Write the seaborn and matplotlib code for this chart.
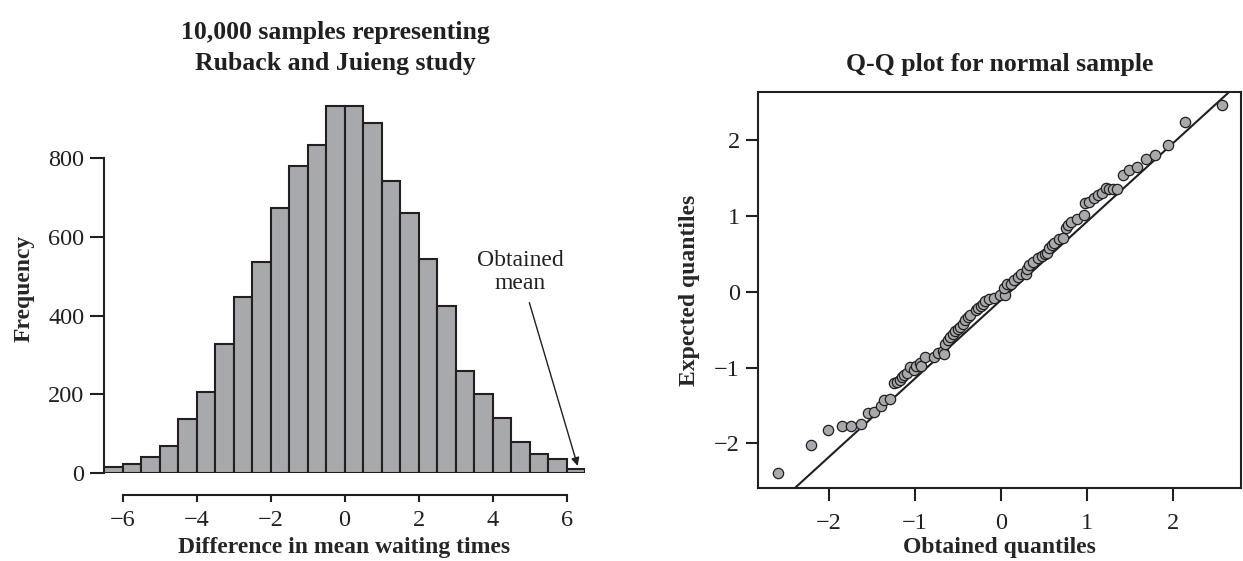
import numpy as np
import pandas as pd
import matplotlib
matplotlib.use("Agg")
import matplotlib.pyplot as plt
import seaborn as sns

# Histogram data (bin width 0.5, from -6.5 to 6.5)
bin_edges = np.arange(-6.5, 6.51, 0.5)
bin_counts = [14, 22, 41, 69, 136, 206, 327, 447, 537, 675, 781, 833, 932,
              932, 889, 742, 660, 543, 425, 260, 202, 141, 79, 49, 35, 11]

# Q-Q plot data
obtained_q = [-2.593, -2.203, -2.004, -1.846, -1.734, -1.618, -1.539, -1.477, -1.394, -1.361,
              -1.290, -1.245, -1.207, -1.174, -1.145, -1.120, -1.091, -1.050, -1.004, -0.988,
              -0.938, -0.921, -0.880, -0.780, -0.730, -0.672, -0.664, -0.647, -0.618, -0.585,
              -0.552, -0.531, -0.498, -0.469, -0.440, -0.415, -0.382, -0.353, -0.290, -0.261,
              -0.232, -0.207, -0.178, -0.133, -0.075, -0.012, 0.050, 0.037, 0.071, 0.116,
              0.154, 0.195, 0.237, 0.290, 0.299, 0.332, 0.373, 0.432, 0.473, 0.515,
              0.539, 0.560, 0.598, 0.622, 0.672, 0.722, 0.755, 0.776, 0.817, 0.888,
              0.963, 0.983, 1.025, 1.087, 1.129, 1.178, 1.220, 1.261, 1.303, 1.344,
              1.419, 1.494, 1.585, 1.689, 1.793, 1.938, 2.137, 2.573]
expected_q = [-2.386, -2.024, -1.825, -1.772, -1.772, -1.745, -1.600, -1.582, -1.511, -1.427,
              -1.414, -1.206, -1.184, -1.158, -1.127, -1.100, -1.065, -0.994, -1.030, -0.972,
              -0.941, -0.972, -0.862, -0.862, -0.804, -0.782, -0.817, -0.685, -0.632, -0.601,
              -0.552, -0.517, -0.490, -0.464, -0.429, -0.376, -0.331, -0.309, -0.243, -0.212,
              -0.190, -0.155, -0.119, -0.088, -0.075, -0.044, -0.035, 0.057, 0.102, 0.102,
              0.155, 0.199, 0.243, 0.243, 0.296, 0.354, 0.393, 0.442, 0.473, 0.499,
              0.517, 0.574, 0.614, 0.641, 0.694, 0.716, 0.840, 0.884, 0.928, 0.959,
              1.016, 1.171, 1.193, 1.237, 1.281, 1.312, 1.370, 1.357, 1.357, 1.357,
              1.538, 1.613, 1.648, 1.759, 1.812, 1.944, 2.245, 2.466]
line_intercept = -0.11
line_slope = 1.037

ink = "#231f20"
bar_grey = "#a7a9ac"

sns.set_style("ticks")
plt.rcParams['font.family'] = ['Liberation Serif', 'DejaVu Serif']
plt.rcParams['axes.edgecolor'] = ink
plt.rcParams['xtick.color'] = ink
plt.rcParams['ytick.color'] = ink
plt.rcParams['text.color'] = ink

fig = plt.figure(figsize=(12.43, 5.61), dpi=100)

# ---- Left: histogram ----
ax1 = fig.add_axes([0.0837, 0.1569, 0.3870, 0.659])
centers = (bin_edges[:-1] + bin_edges[1:]) / 2
hist_df = pd.DataFrame({"diff": centers, "count": bin_counts})
sns.histplot(data=hist_df, x="diff", weights="count", binwidth=0.5, binrange=(-6.5, 6.5),
             ax=ax1, color=bar_grey, alpha=1, edgecolor=ink, linewidth=1.5)
ax1.set_xlim(-6.5, 6.5)
ax1.set_ylim(0, 940)
ax1.spines[['top', 'right']].set_visible(False)
ax1.spines['bottom'].set_position(('outward', 16))
ax1.spines['bottom'].set_bounds(-6, 6)
ax1.spines['left'].set_bounds(0, 800)
for s in ax1.spines.values():
    s.set_linewidth(1.5)
ax1.set_xticks([-6, -4, -2, 0, 2, 4, 6])
ax1.set_yticks([0, 200, 400, 600, 800])
ax1.tick_params(axis='y', length=10, width=1.5, labelsize=17.5, pad=4)
ax1.tick_params(axis='x', length=5, width=1.5, labelsize=17.5, pad=6)
ax1.set_xlabel("Difference in mean waiting times", fontsize=17, fontweight='bold', labelpad=4)
ax1.set_ylabel("Frequency", fontsize=17, fontweight='bold', labelpad=10)
fig.text(335 / 1243, 1 - 48 / 561, "10,000 samples representing\nRuback and Juieng study",
         ha='center', va='center', fontsize=18.5, fontweight='bold', linespacing=1.45)
ax1.annotate("Obtained\nmean", xy=(6.3, 18), xytext=(4.75, 455),
             ha='center', va='bottom', fontsize=17, linespacing=1.1,
             arrowprops=dict(arrowstyle='-|>', color=ink, lw=1.0, shrinkA=4, shrinkB=0,
                             mutation_scale=12))

# ---- Right: Q-Q plot ----
ax2 = fig.add_axes([0.6098, 0.1301, 0.3886, 0.7059])
qq_df = pd.DataFrame({"obtained": obtained_q, "expected": expected_q})
sns.scatterplot(data=qq_df, x="obtained", y="expected", ax=ax2, s=55,
                color=bar_grey, edgecolor=ink, linewidth=0.9, zorder=3)
ax2.axline((0, line_intercept), slope=line_slope, color=ink, lw=1.5, zorder=2)
ax2.set_xlim(-2.82, 2.79)
ax2.set_ylim(-2.59, 2.64)
for s in ax2.spines.values():
    s.set_linewidth(1.5)
ax2.set_xticks([-2, -1, 0, 1, 2])
ax2.set_yticks([-2, -1, 0, 1, 2])
ax2.tick_params(axis='x', length=9, width=1.5, labelsize=17.5, pad=9)
ax2.tick_params(axis='y', length=9, width=1.5, labelsize=17.5, pad=4)
ax2.set_xlabel("Obtained quantiles", fontsize=17, fontweight='bold', labelpad=2)
ax2.set_ylabel("Expected quantiles", fontsize=17, fontweight='bold', labelpad=10)
ax2.set_title("Q-Q plot for normal sample", fontsize=18.5, fontweight='bold', pad=15)

fig.savefig("out.png", dpi=100)
